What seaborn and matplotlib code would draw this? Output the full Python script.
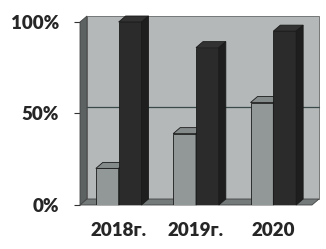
import numpy as np
import pandas as pd
import matplotlib
matplotlib.use("Agg")
import matplotlib.pyplot as plt
import seaborn as sns
from matplotlib.patches import Polygon, Rectangle

years = ["2018г.", "2019г.", "2020"]
series = ["a", "b"]
values_a = [0.20, 0.39, 0.56]
values_b = [1.00, 0.86, 0.95]
yticks = [0.0, 0.5, 1.0]
ytick_labels = ["0%", "50%", "100%"]

WALL = "#b4b8b8"
LEFT_WALL = "#5c6262"
FLOOR = "#747a7a"
LIGHT = "#929898"
DARK = "#2b2b2b"

df = pd.DataFrame({
    "year": years * 2,
    "series": ["a"] * 3 + ["b"] * 3,
    "value": values_a + values_b,
})

sns.set_style("white")
plt.rcParams["font.family"] = ["Lato", "DejaVu Sans"]

fig = plt.figure(figsize=(3.26, 2.49), dpi=100)
ax = fig.add_axes([80 / 326, 44 / 249, 232 / 326, 183 / 249])

sns.barplot(data=df, x="year", y="value", hue="series", palette=[LIGHT, DARK],
            width=0.59, saturation=1, ax=ax, legend=False, zorder=3,
            edgecolor="#1a1a1a", linewidth=0.6)

ax.set_xlim(-0.5, 2.5)
ax.set_ylim(0, 1.0)

# depth offset in data units
dx = 7 / 232 * 3
dy = 6 / 183 * 1.0

# back wall, left wall, floor
ax.add_patch(Rectangle((-0.5 + dx, dy), 3, 1.0, facecolor=WALL, edgecolor="#666",
                       lw=0.6, zorder=0, clip_on=False))
ax.add_patch(Polygon([(-0.5, 0), (-0.5 + dx, dy), (-0.5 + dx, 1 + dy), (-0.5, 1)],
                     facecolor=LEFT_WALL, edgecolor="#444", lw=0.6, zorder=1, clip_on=False))
ax.add_patch(Polygon([(-0.5, 0), (2.5, 0), (2.5 + dx, dy), (-0.5 + dx, dy)],
                     facecolor=FLOOR, edgecolor="#444", lw=0.6, zorder=1, clip_on=False))
ax.plot([-0.5 + dx, 2.5 + dx], [0.5 + dy, 0.5 + dy], color="#3a4a4a", lw=0.9,
        zorder=2, clip_on=False)

# fake depth on each bar; dark bars sit in front of the light ones
bars = [p for p in ax.patches if isinstance(p, Rectangle) and p.get_zorder() == 3]
for i, p in enumerate(bars):
    z = 3 if i < len(years) else 4
    p.set_zorder(z)
    x, w, h = p.get_x(), p.get_width(), p.get_height()
    fc = np.array(p.get_facecolor()[:3])
    top = Polygon([(x, h), (x + w, h), (x + w + dx, h + dy), (x + dx, h + dy)],
                  facecolor=np.clip(fc * 0.8 + 0.06, 0, 1), edgecolor="#1a1a1a",
                  lw=0.6, zorder=z, clip_on=False)
    side = Polygon([(x + w, 0), (x + w + dx, dy), (x + w + dx, h + dy), (x + w, h)],
                   facecolor=fc * 0.7, edgecolor="#1a1a1a", lw=0.6, zorder=z,
                   clip_on=False)
    ax.add_patch(top)
    ax.add_patch(side)

for s in ax.spines.values():
    s.set_visible(False)

ax.set_yticks(yticks)
ax.set_yticklabels(ytick_labels, fontsize=13.5, fontweight="heavy")
ax.set_xticks(range(len(years)))
ax.set_xticklabels(years, fontsize=13.5, fontweight="heavy")
ax.set_xticks([-0.5, 0.5, 1.5, 2.5], minor=True)
ax.tick_params(axis="x", which="major", length=0, pad=12)
ax.tick_params(axis="x", which="minor", length=5, width=0.8, color="#333", direction="out")
ax.tick_params(axis="y", length=4, width=0.8, color="#333", direction="out", pad=11, left=True)
ax.set_xlabel("")
ax.set_ylabel("")

fig.savefig("out.png", dpi=100)
